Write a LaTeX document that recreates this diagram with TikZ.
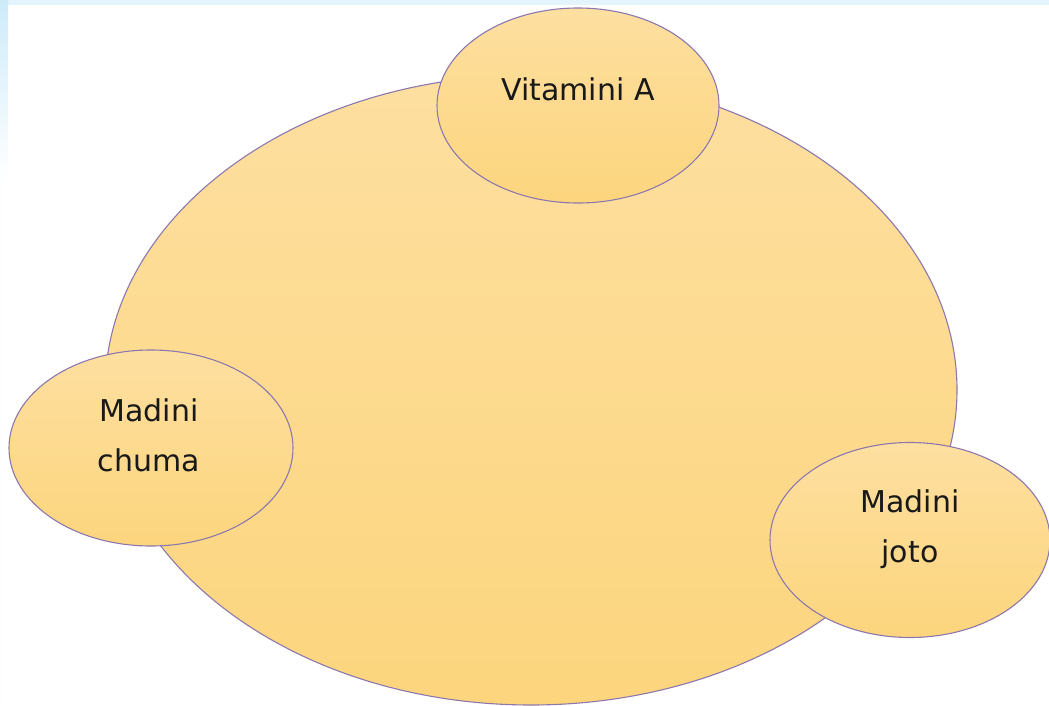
\documentclass[tikz,border=0pt]{standalone}
\usepackage{fontspec}
\setmainfont{DejaVu Sans}
\usetikzlibrary{shapes.geometric}
\definecolor{rimline}{RGB}{140,120,175}
\definecolor{filltop}{RGB}{253,223,160}
\definecolor{fillbot}{RGB}{252,213,125}
\definecolor{edgeblue}{RGB}{205,235,250}
\definecolor{stripblue}{RGB}{228,244,253}
\tikzset{
  blob/.style={ellipse, draw=rimline, line width=1.1pt, inner sep=0pt,
               top color=filltop, bottom color=fillbot},
  caption/.style={font=\fontsize{30}{50}\selectfont, text=black!90,
                  inner sep=0pt, align=center, anchor=base}
}
\begin{document}
\begin{tikzpicture}[x=1pt,y=-1pt]
  \useasboundingbox (0,0) rectangle (1049,705);
  % page frame: white sheet with a pale blue rim on top and left
  \fill[white] (0,0) rectangle (1049,705);
  \fill[stripblue] (0,0) rectangle (1049,5);
  \shade[top color=edgeblue, bottom color=white] (0,0) rectangle (8,180);
  \fill[white!96!edgeblue] (0,180) rectangle (3,705);

  % central body
  \node[blob, minimum width=852pt, minimum height=630pt] (core) at (531,390) {};

  % satellites
  \node[blob, minimum width=282pt, minimum height=195pt] (vita) at (578,105.5) {};
  \node[blob, minimum width=284pt, minimum height=196pt] (chuma) at (151,448) {};
  \node[blob, minimum width=280pt, minimum height=195pt] (joto) at (910,540) {};

  % labels (base anchor sits on the last line's baseline)
  \node[caption] (tvita) at (578,100) {Vitamini A};
  \node[caption] (tchuma) at (149,471) {Madini\\chuma};
  \node[caption] (tjoto) at (910,562) {Madini\\joto};
\end{tikzpicture}
\end{document}
